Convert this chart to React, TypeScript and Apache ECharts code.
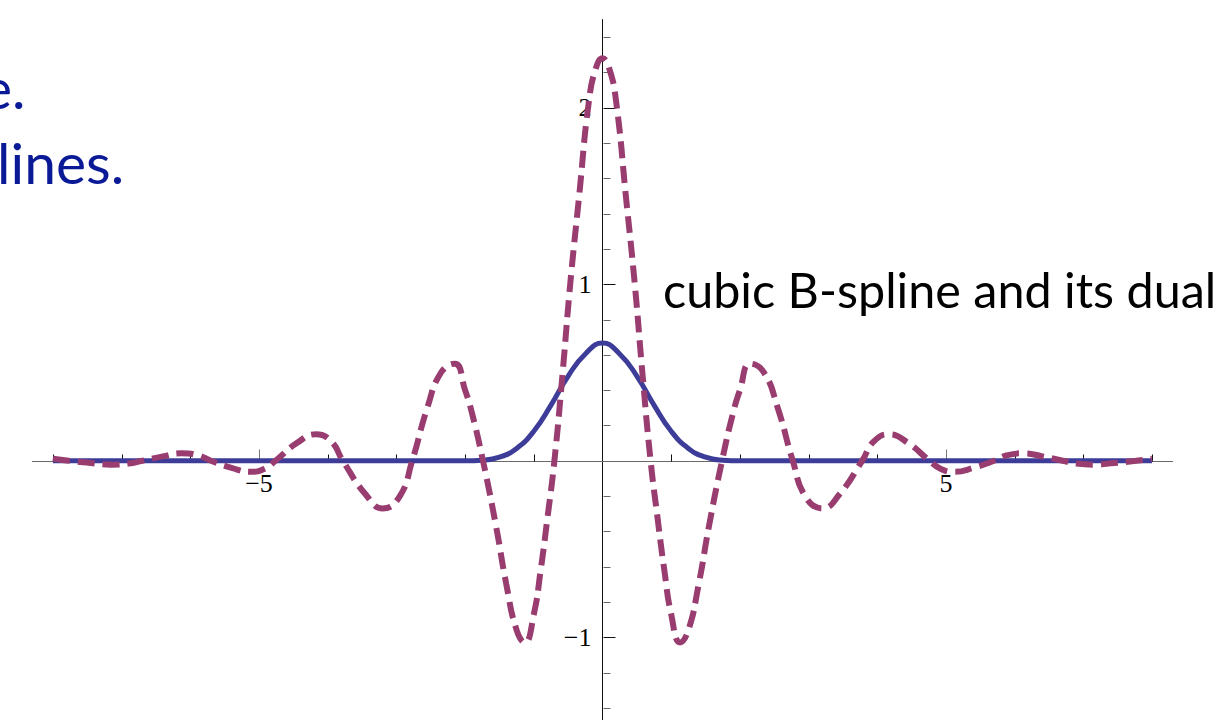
import React, { useEffect, useRef } from "react";
import * as echarts from "echarts";

// Cubic B-spline samples (solid curve)
const splineX = [-8, -7, -6, -5, -4, -3, -2, -1.75, -1.5, -1.25, -1, -0.75, -0.5, -0.25, 0, 0.25, 0.5, 0.75, 1, 1.25, 1.5, 1.75, 2, 3, 4, 5, 6, 7, 8];
const splineY = [0, 0, 0, 0, 0, 0, 0, 0.003, 0.02, 0.07, 0.167, 0.315, 0.48, 0.605, 0.667, 0.605, 0.48, 0.315, 0.167, 0.07, 0.02, 0.003, 0, 0, 0, 0, 0, 0, 0];

// Dual cubic B-spline samples (dashed curve)
const dualX = [
  -8, -7.77, -7.45, -7.15, -6.9, -6.7, -6.4, -6.13, -5.88, -5.7, -5.4, -5.12, -4.92, -4.76,
  -4.45, -4.17, -3.95, -3.78, -3.45, -3.2, -2.95, -2.77, -2.55, -2.35, -2.15, -2, -1.9, -1.74,
  -1.55, -1.4, -1.25, -1.13, -1, -0.9, -0.8, -0.7, -0.58, -0.47, -0.34, -0.2, -0.1, 0,
  0.1, 0.2, 0.34, 0.47, 0.58, 0.7, 0.8, 0.9, 1, 1.13, 1.25, 1.4, 1.55, 1.74, 1.9, 2, 2.15,
  2.35, 2.55, 2.77, 2.95, 3.2, 3.45, 3.78, 3.95, 4.17, 4.45, 4.76, 4.92, 5.12, 5.4, 5.7, 5.88,
  6.13, 6.4, 6.7, 6.9, 7.15, 7.45, 7.77, 8,
];
const dualY = [
  0.012, 0, -0.013, -0.022, -0.016, 0, 0.025, 0.042, 0.03, 0, -0.04, -0.063, -0.045, 0,
  0.1, 0.15, 0.11, 0, -0.19, -0.27, -0.2, 0, 0.3, 0.5, 0.55, 0.4, 0.27, 0,
  -0.37, -0.7, -0.96, -1.03, -0.87, -0.62, -0.32, 0, 0.5, 1.0, 1.5, 2.03, 2.22, 2.28,
  2.22, 2.03, 1.5, 1.0, 0.5, 0, -0.32, -0.62, -0.87, -1.03, -0.96, -0.7, -0.37, 0, 0.27, 0.4, 0.55,
  0.5, 0.3, 0, -0.2, -0.27, -0.19, 0, 0.11, 0.15, 0.1, 0, -0.045, -0.063, -0.04, 0, 0.03,
  0.042, 0.025, 0, -0.016, -0.022, -0.013, 0, 0.012,
];

// Tick positions
const xMinorTicks = [-8, -7, -6, -4, -3, -2, -1, 1, 2, 3, 4, 6, 7, 8];
const xMajorTicks = [-5, 5];
const yMinorTicks = [-1.4, -1.2, -0.8, -0.6, -0.4, -0.2, 0.2, 0.4, 0.6, 0.8, 1.2, 1.4, 1.6, 1.8, 2.2, 2.4];
const yMajorTicks = [-1, 1, 2];

const caption = "cubic B-spline and its dual";
const slideText = ["e.", "lines."];

const X_MIN = -8.3;
const X_MAX = 8.3;
const Y_MIN = -1.5;
const Y_MAX = 2.5;

const tickFont = "Liberation Serif";
const minus = (v: number) => String(v).replace("-", "\u2212");

// Short tick segments placed through the cartesian coordinate system
const tickRenderer = (dir: "up" | "right", len: number, color: string) =>
  (_params: any, api: any) => {
    const p = api.coord([api.value(0), api.value(1)]);
    const x = Math.round(p[0]) + 0.5;
    const y = Math.round(p[1]) + 0.5;
    return {
      type: "line",
      shape: dir === "up" ? { x1: x, y1: y, x2: x, y2: y - len } : { x1: x, y1: y, x2: x + len, y2: y },
      style: { stroke: color, lineWidth: 1 },
    };
  };

// Tick labels that sit next to the axes crossing at the origin
const labelRenderer = (side: "below" | "left") =>
  (_params: any, api: any) => {
    const v = side === "below" ? api.value(0) : api.value(1);
    const p = api.coord([api.value(0), api.value(1)]);
    return {
      type: "text",
      x: side === "below" ? p[0] : p[0] - 11,
      y: side === "below" ? p[1] + 10 : p[1],
      style: {
        text: minus(v),
        fontFamily: tickFont,
        fontSize: 26,
        fill: "#000",
        align: side === "below" ? "center" : "right",
        verticalAlign: side === "below" ? "top" : "middle",
      },
    };
  };

export default function App() {
  const ref = useRef<HTMLDivElement>(null);

  useEffect(() => {
    if (!ref.current) return;
    const chart = echarts.init(ref.current, null, { renderer: "svg" });

    chart.setOption({
      animation: false,
      backgroundColor: "#ffffff",
      grid: { left: 32.3, right: 50.3, top: 19.5, bottom: 0.5, outerBoundsMode: "none", containLabel: false },
      xAxis: {
        type: "value",
        min: X_MIN,
        max: X_MAX,
        splitLine: { show: false },
        axisLine: { show: true, onZero: true, lineStyle: { color: "#6a6a6a", width: 1 } },
        axisTick: { show: false },
        axisLabel: { show: false },
      },
      yAxis: {
        type: "value",
        min: Y_MIN,
        max: Y_MAX,
        splitLine: { show: false },
        axisLine: { show: true, onZero: true, lineStyle: { color: "#111", width: 1 } },
        axisTick: { show: false },
        axisLabel: { show: false },
      },
      series: [
        {
          name: "x minor ticks",
          type: "custom",
          data: xMinorTicks.map((x) => [x, 0]),
          renderItem: tickRenderer("up", 7, "#111"),
          silent: true,
          z: 1,
        },
        {
          name: "x major ticks",
          type: "custom",
          data: xMajorTicks.map((x) => [x, 0]),
          renderItem: tickRenderer("up", 12, "#777"),
          silent: true,
          z: 1,
        },
        {
          name: "y minor ticks",
          type: "custom",
          data: yMinorTicks.map((y) => [0, y]),
          renderItem: tickRenderer("right", 7, "#666"),
          silent: true,
          z: 1,
        },
        {
          name: "y major ticks",
          type: "custom",
          data: yMajorTicks.map((y) => [0, y]),
          renderItem: tickRenderer("right", 12, "#111"),
          silent: true,
          z: 1,
        },
        {
          name: "x labels",
          type: "custom",
          data: xMajorTicks.map((x) => [x, 0]),
          renderItem: labelRenderer("below"),
          silent: true,
          z: 1,
        },
        {
          name: "y labels",
          type: "custom",
          data: yMajorTicks.map((y) => [0, y]),
          renderItem: labelRenderer("left"),
          silent: true,
          z: 1,
        },
        {
          name: "cubic B-spline",
          type: "line",
          data: splineX.map((x, i) => [x, splineY[i]]),
          smooth: true,
          showSymbol: false,
          lineStyle: { color: "#3d3d99", width: 5 },
          z: 3,
        },
        {
          name: "dual",
          type: "line",
          data: dualX.map((x, i) => [x, dualY[i]]),
          smooth: true,
          showSymbol: false,
          lineStyle: { color: "#993d71", width: 6, type: [17, 8], cap: "butt" },
          z: 4,
        },
      ],
      graphic: [
        {
          type: "text",
          x: -18,
          y: 58,
          style: { text: slideText[0], fontSize: 57, fontFamily: "Lato", fill: "#0a1a96" },
        },
        {
          type: "text",
          x: -3,
          y: 133,
          style: { text: slideText[1], fontSize: 57, fontFamily: "Lato", fill: "#0a1a96" },
        },
        {
          type: "text",
          x: 663,
          y: 264.5,
          style: { text: caption, fontSize: 48.5, fontFamily: "Lato", fill: "#000" },
        },
      ],
    });

    return () => chart.dispose();
  }, []);

  return (
    <div style={{ position: "fixed", left: 0, top: 0, width: 1223, height: 720, overflow: "hidden", background: "#fff" }}>
      <div ref={ref} style={{ width: 1223, height: 726 }} />
    </div>
  );
}
